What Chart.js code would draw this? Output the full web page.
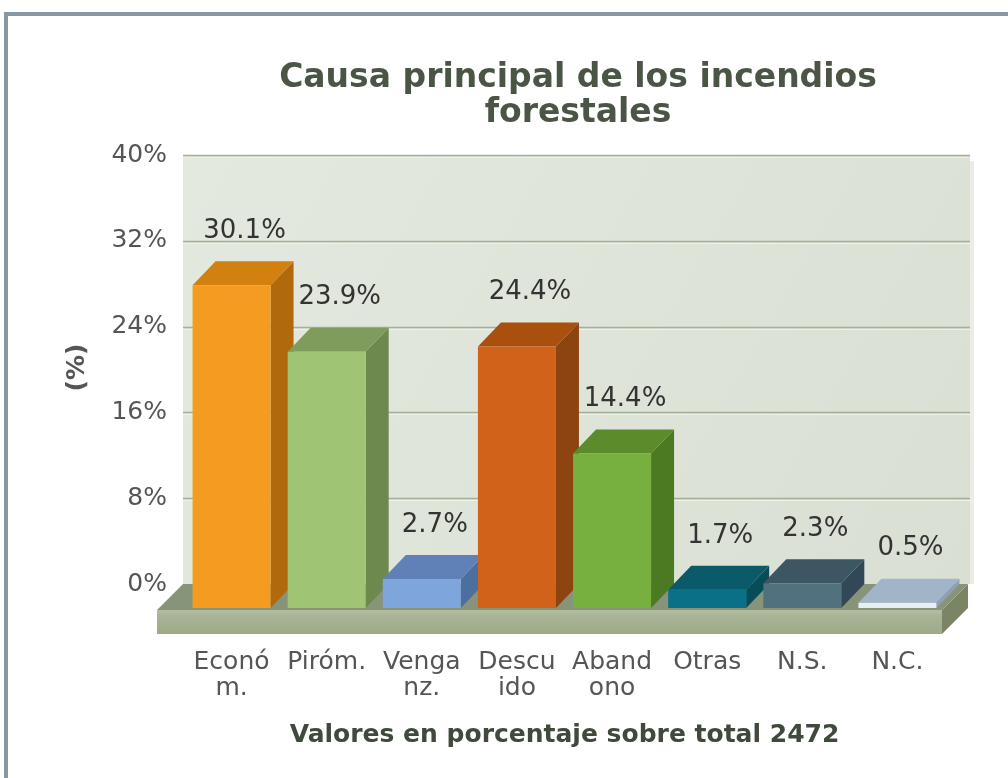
<!DOCTYPE html>
<html>
<head>
<meta charset="utf-8">
<title>Causa principal de los incendios forestales</title>
<script src="https://cdn.jsdelivr.net/npm/chart.js@4"></script>
<style>
  html, body { margin: 0; padding: 0; background: #fff; overflow: hidden; }
  #frame {
    position: absolute; left: 4px; top: 12px; width: 1004px; height: 766px;
    border-left: 4px solid #8797a3; border-top: 4px solid #8797a3;
    box-sizing: border-box;
  }
  #wrap { position: absolute; left: 0; top: 0; width: 1008px; height: 778px; }
</style>
</head>
<body>
<div id="frame"></div>
<div id="wrap"><canvas id="chart" width="1008" height="778"></canvas></div>
<script>
// datos
const categories = [['Econó', 'm.'], ['Piróm.'], ['Venga', 'nz.'], ['Descu', 'ido'], ['Aband', 'ono'], ['Otras'], ['N.S.'], ['N.C.']];
const valuesPct  = [30.1, 23.9, 2.7, 24.4, 14.4, 1.7, 2.3, 0.5];
const yTicks     = [0, 8, 16, 24, 32, 40];

// colores: frente, tapa, lateral
const frontColors = ['#f59b20', '#9fc474', '#7ea5dc', '#d0621a', '#78b040', '#0a7088', '#52717f', '#e6f0f4'];
const topColors   = ['#d2800f', '#7f9c5c', '#5f81b8', '#a9500f', '#5b8b2b', '#0a5a6a', '#3d5663', '#a2b5c8'];
const sideColors  = ['#b06a0c', '#6d894e', '#4d6fa0', '#8c4410', '#4c7a22', '#074c58', '#324858', '#8ea2b6'];

const BAR_DX = 23, BAR_DY = -24;   // profundidad de las barras
const WALL_DX = 26, WALL_DY = -24; // desplazamiento pared / suelo
const TITLE_CENTER = 578;

const threeD = {
  id: 'threeD',
  afterLayout(chart) {
    const t = chart.titleBlock;
    if (t) {
      const shift = TITLE_CENTER - (t.left + t.right) / 2;
      t.left += shift;
      t.right += shift;
    }
  },
  beforeDatasetsDraw(chart) {
    const { ctx, chartArea: a, scales: { y } } = chart;
    const base = y.getPixelForValue(0);
    const wallTop = y.getPixelForValue(yTicks[yTicks.length - 1]) + WALL_DY;
    const wallL = a.left - 1, wallR = a.right + WALL_DX - 1;
    ctx.save();

    // pared del fondo
    const g = ctx.createLinearGradient(wallL, wallTop, wallR, base);
    g.addColorStop(0, '#e4e9df');
    g.addColorStop(1, '#d9dfd3');
    ctx.fillStyle = g;
    ctx.fillRect(wallL, wallTop, wallR - wallL, base + WALL_DY - wallTop);
    ctx.fillStyle = '#e9ede3';
    ctx.fillRect(wallR, wallTop + 6, 4, base + WALL_DY - wallTop - 6);

    // líneas de cuadrícula
    yTicks.forEach(v => {
      if (v === 0) return;
      const py = Math.round(y.getPixelForValue(v) + WALL_DY) + 0.5;
      ctx.strokeStyle = '#a4b199';
      ctx.lineWidth = 1.5;
      ctx.beginPath(); ctx.moveTo(wallL, py); ctx.lineTo(wallR, py); ctx.stroke();
      ctx.strokeStyle = '#eef1ea';
      ctx.lineWidth = 1;
      ctx.beginPath(); ctx.moveTo(wallL, py + 2); ctx.lineTo(wallR, py + 2); ctx.stroke();
    });

    // suelo
    const fl = a.left - 27, fr = a.right - 3, ft = base + 2, th = 24;
    ctx.fillStyle = '#87947a';
    ctx.beginPath();
    ctx.moveTo(fl, ft); ctx.lineTo(fr, ft);
    ctx.lineTo(fr + WALL_DX, ft + WALL_DY - 2); ctx.lineTo(fl + WALL_DX, ft + WALL_DY - 2);
    ctx.closePath(); ctx.fill();
    const gf = ctx.createLinearGradient(0, ft, 0, ft + th);
    gf.addColorStop(0, '#b4bf9f');
    gf.addColorStop(0.25, '#a8b493');
    gf.addColorStop(1, '#9daa88');
    ctx.fillStyle = gf;
    ctx.fillRect(fl, ft, fr - fl, th);
    ctx.fillStyle = '#7a8566';
    ctx.beginPath();
    ctx.moveTo(fr, ft); ctx.lineTo(fr + WALL_DX, ft + WALL_DY - 2);
    ctx.lineTo(fr + WALL_DX, ft + WALL_DY - 2 + th); ctx.lineTo(fr, ft + th);
    ctx.closePath(); ctx.fill();

    // caras laterales y superiores de las barras
    chart.getDatasetMeta(0).data.forEach((bar, i) => {
      const { x, y: top, width, base: b } = bar.getProps(['x', 'y', 'width', 'base'], true);
      const l = x - width / 2, r = x + width / 2;
      ctx.fillStyle = sideColors[i];
      ctx.beginPath();
      ctx.moveTo(r, top); ctx.lineTo(r + BAR_DX, top + BAR_DY);
      ctx.lineTo(r + BAR_DX, b + BAR_DY); ctx.lineTo(r, b);
      ctx.closePath(); ctx.fill();
      ctx.fillStyle = topColors[i];
      ctx.beginPath();
      ctx.moveTo(l, top); ctx.lineTo(r, top);
      ctx.lineTo(r + BAR_DX, top + BAR_DY); ctx.lineTo(l + BAR_DX, top + BAR_DY);
      ctx.closePath(); ctx.fill();
    });
    ctx.restore();
  },
  afterDatasetsDraw(chart) {
    const { ctx } = chart;
    ctx.save();
    ctx.font = '26px "DejaVu Sans"';
    ctx.fillStyle = '#333333';
    ctx.textAlign = 'center';
    ctx.textBaseline = 'middle';
    chart.getDatasetMeta(0).data.forEach((bar, i) => {
      ctx.fillText(valuesPct[i].toFixed(1) + '%', bar.x + 13, bar.y - 54);
    });
    ctx.restore();
  }
};

const ctx = document.getElementById('chart').getContext('2d');
new Chart(ctx, {
  type: 'bar',
  data: {
    labels: categories,
    datasets: [{
      data: valuesPct,
      backgroundColor: frontColors,
      borderWidth: 0,
      categoryPercentage: 1,
      barPercentage: 0.82
    }]
  },
  options: {
    responsive: false,
    animation: false,
    events: [],
    layout: { padding: { left: 0, right: 63, top: 0, bottom: 0 } },
    plugins: {
      legend: { display: false },
      tooltip: { enabled: false },
      title: {
        display: true,
        text: ['Causa principal de los incendios', 'forestales'],
        color: '#4a5546',
        font: { family: '"DejaVu Sans"', size: 33, weight: 'bold', lineHeight: 1.07 },
        padding: { top: 60.5, bottom: 48 }
      }
    },
    scales: {
      x: {
        grid: { display: false, drawTicks: false },
        border: { display: false },
        ticks: {
          color: '#555555',
          padding: 41,
          maxRotation: 0,
          autoSkip: false,
          font: { family: '"DejaVu Sans"', size: 25, lineHeight: 1.05 }
        },
        title: {
          display: true,
          text: 'Valores en porcentaje sobre total 2472',
          color: '#3f4a3c',
          font: { family: '"DejaVu Sans"', size: 25, weight: 'bold', lineHeight: 1.2 },
          padding: { top: 0, bottom: 28 }
        },
        afterFit(s) { s.height = 170; }
      },
      y: {
        min: 0,
        max: 40,
        grid: { display: false, drawTicks: false },
        border: { display: false },
        ticks: {
          stepSize: 8,
          color: '#555555',
          padding: 17,
          labelOffset: WALL_DY,
          font: { family: '"DejaVu Sans"', size: 25 },
          callback: v => v + '%'
        },
        title: {
          display: true,
          text: '\u00a0\u00a0\u00a0\u00a0\u00a0\u00a0(%)',
          color: '#555555',
          font: { family: '"DejaVu Sans"', size: 25, weight: 'bold', lineHeight: 1.2 },
          padding: { top: 62, bottom: 0 }
        },
        afterFit(s) { s.width = 184; }
      }
    }
  },
  plugins: [threeD]
});
</script>
</body>
</html>
